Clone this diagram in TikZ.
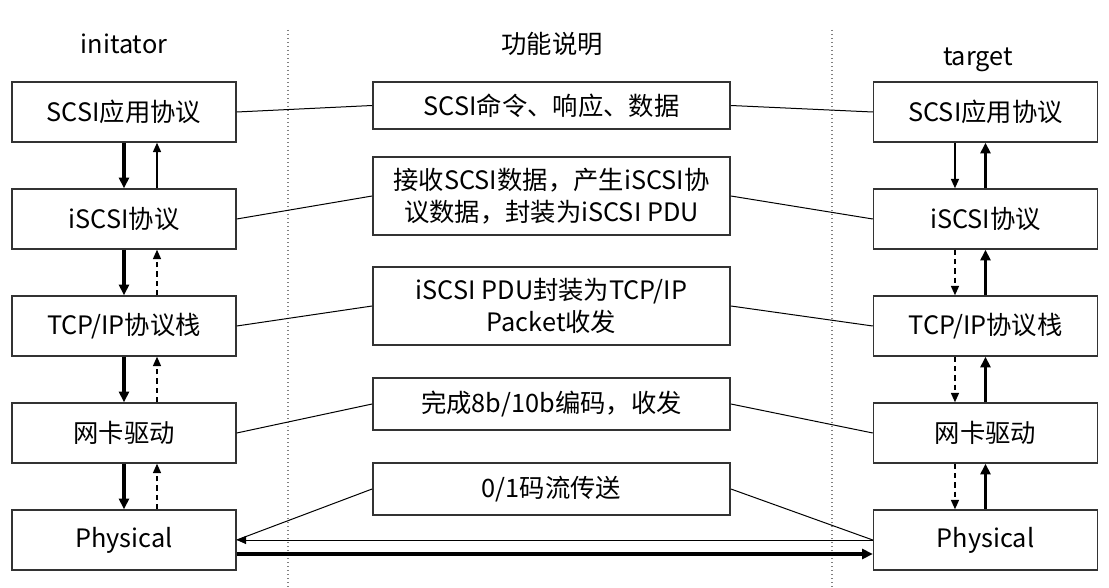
\documentclass[tikz,border=0pt]{standalone}
\usepackage{fontspec}
\setmainfont{Noto Sans CJK SC}
\usetikzlibrary{arrows.meta}
\begin{document}
\begin{tikzpicture}[x=0.75pt,y=-0.75pt,font=\fontsize{19}{24}\selectfont,
	layer/.style={draw=black!80,line width=1.1pt,minimum width=168pt,minimum height=45pt,inner sep=0pt},
	desc/.style={draw=black!80,line width=1.1pt,minimum width=268pt,inner sep=0pt,align=center},
	link/.style={line width=0.75pt},
	thick arrow/.style={line width=2.6pt,-{Triangle[length=8pt,width=7.5pt]}},
	thin arrow/.style={line width=1.1pt,-{Triangle[length=7pt,width=6pt]}},
	sep/.style={gray,dotted,line width=1pt}]

\useasboundingbox (0,0) rectangle (1109,588);

\draw[sep] (288,30) -- (288,588);
\draw[sep] (832,30) -- (832,588);

\node (ini) at (124,44) {initator};
\node (fun) at (552,44) {功能说明};
\node (tgt) at (978,60) {target};

% protocol layers on both sides
\foreach \n/\t [count=\i from 0] in {app/SCSI应用协议,isc/iSCSI协议,tcp/{TCP/IP协议栈},nic/网卡驱动,phy/Physical}{
	\node[layer] (l\n) at (124,112+107*\i) {\t};
	\node[layer] (r\n) at (985.5,112+107*\i) {\t};
}

% function descriptions
\node[desc,minimum height=35pt] (dapp) at (551.5,105.5) {SCSI命令、响应、数据};
\node[desc,minimum height=58.5pt] (disc) at (551.5,196) {接收SCSI数据，产生iSCSI协\\议数据，封装为iSCSI PDU};
\node[desc,minimum height=58.5pt] (dtcp) at (551.5,306) {iSCSI PDU封装为TCP/IP\\Packet收发};
\node[desc,minimum height=39pt] (dnic) at (551.5,404) {完成8b/10b编码，收发};
\node[desc,minimum height=39pt] (dphy) at (551.5,489) {0/1码流传送};

\foreach \n in {app,isc,tcp,nic}{
	\draw[link] (l\n.east) -- (d\n.west);
	\draw[link] (d\n.east) -- (r\n.west);
}
\draw[link] (dphy.west) -- (lphy.east);
\draw[link] (dphy.east) -- (rphy.west);

% vertical arrows
\draw[thick arrow] (lapp.south) -- (lisc.north);
\draw[thin arrow] ([xshift=24.75pt]lisc.north) -- ([xshift=24.75pt]lapp.south);
\draw[thin arrow] ([xshift=-22.9pt]rapp.south) -- ([xshift=-22.9pt]risc.north);
\draw[thick arrow] (risc.north) -- (rapp.south);
\foreach \a/\b in {isc/tcp,tcp/nic,nic/phy}{
	\draw[thick arrow] (l\a.south) -- (l\b.north);
	\draw[thin arrow,dash pattern=on 4pt off 3pt] ([xshift=24.75pt]l\b.north) -- ([xshift=24.75pt]l\a.south);
	\draw[thin arrow,dash pattern=on 4pt off 3pt] ([xshift=-22.9pt]r\a.south) -- ([xshift=-22.9pt]r\b.north);
	\draw[thick arrow] (r\b.north) -- (r\a.south);
}

% physical link
\draw[link,-{Triangle[length=7pt,width=6pt]}] (rphy.west) -- (lphy.east);
\draw[thick arrow] ([yshift=-10.5pt]lphy.east) -- ([yshift=-10.5pt]rphy.west);

\end{tikzpicture}
\end{document}
